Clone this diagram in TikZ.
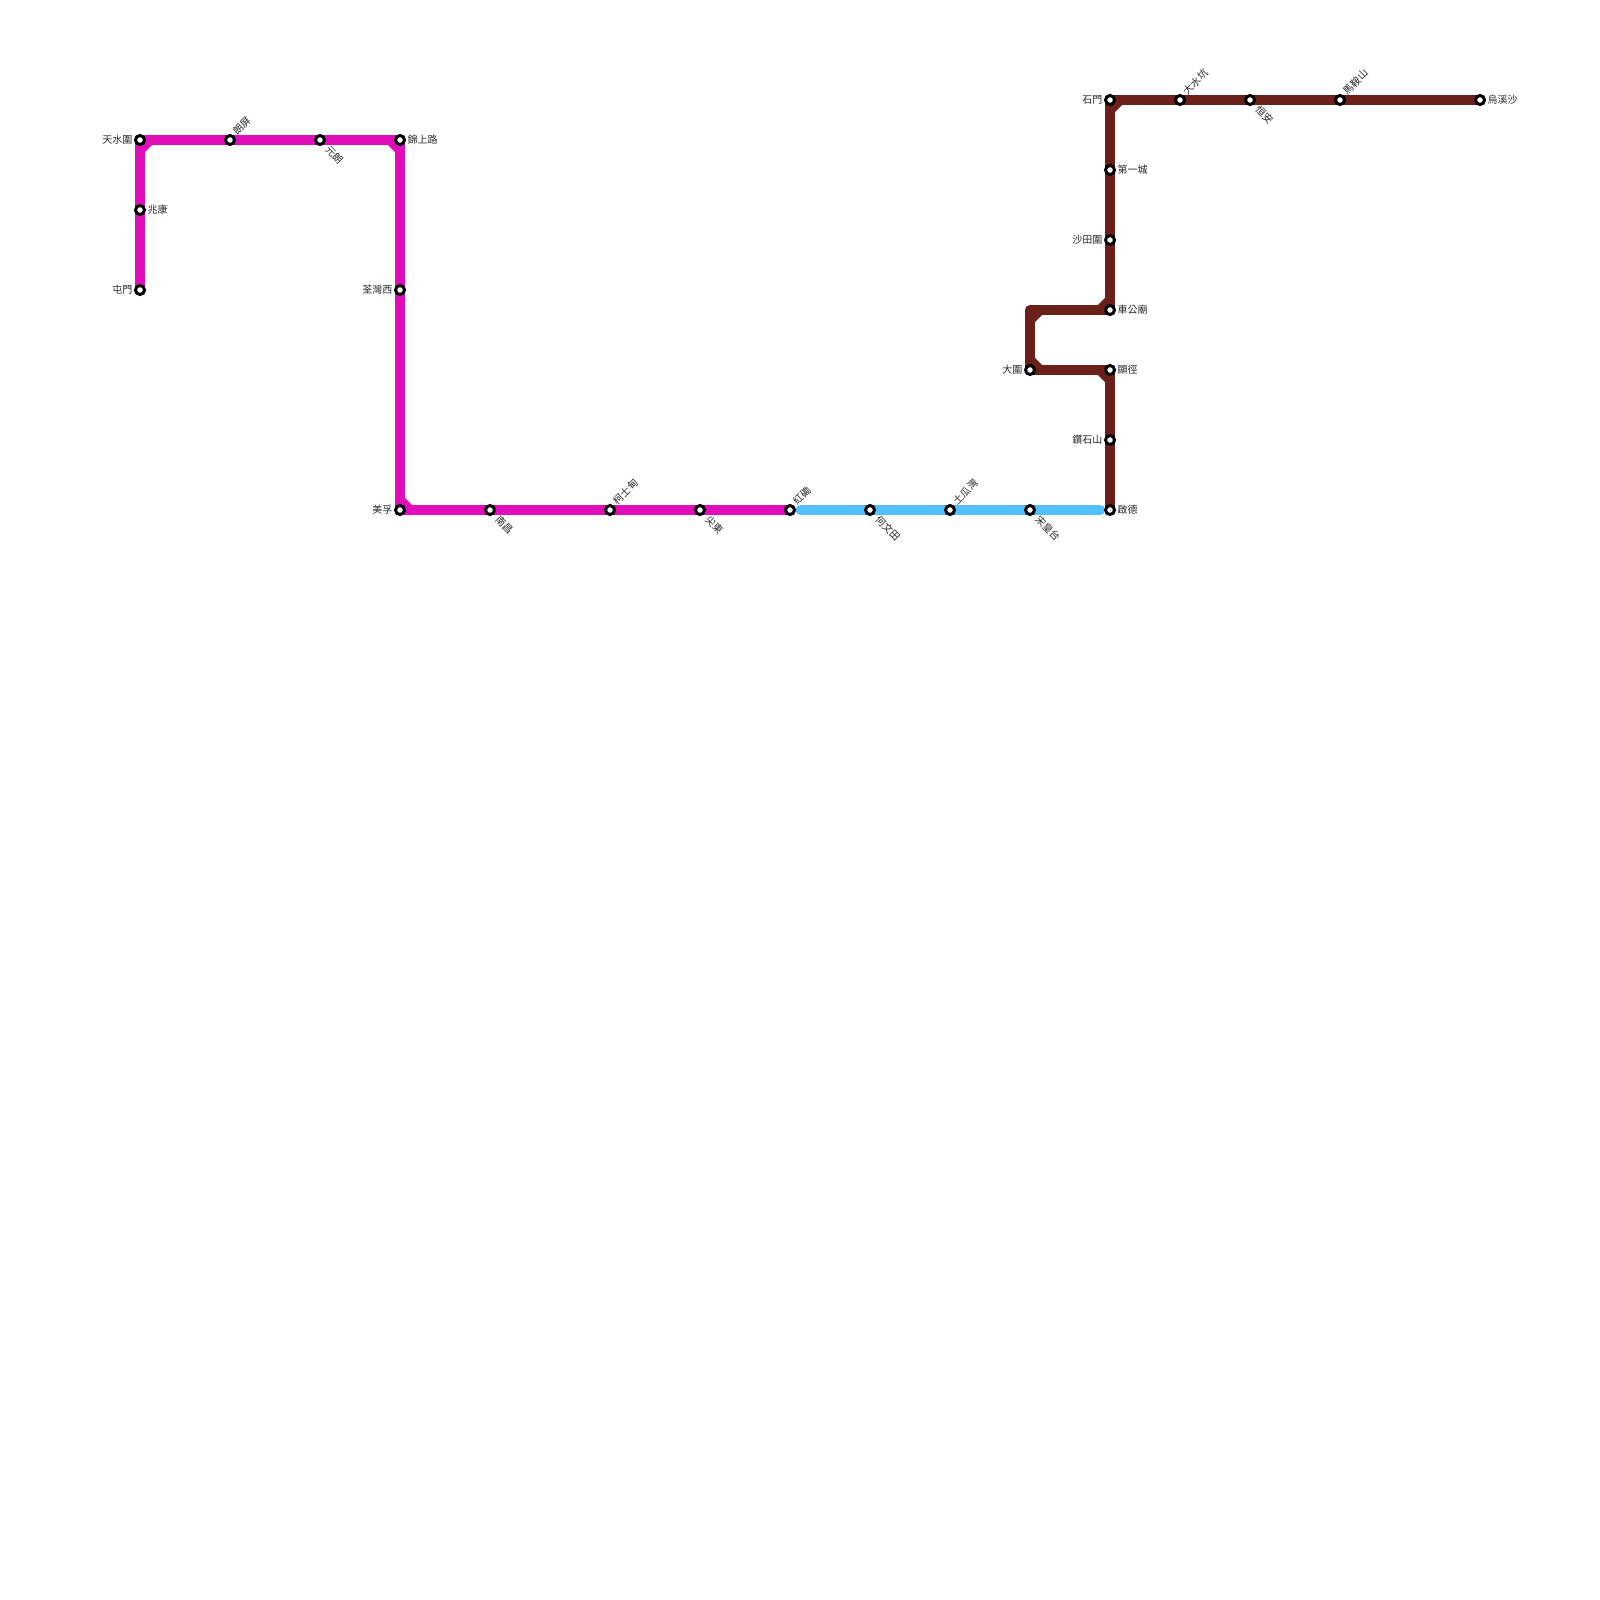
\documentclass[tikz,border=0pt]{standalone}
\usepackage{fontspec}
\setmainfont{Noto Sans CJK TC}
\usetikzlibrary{positioning, calc}
\definecolor{westrail}{RGB}{224,14,184}
\definecolor{tuenma}{RGB}{83,193,255}
\definecolor{maonshan}{RGB}{107,33,26}
\tikzset{
	rail/.style={line width=10pt, line join=round},
	stn/.style={circle, draw=black, fill=white, line width=3pt, minimum size=9pt, inner sep=0pt},
	lbl/.style={font=\fontsize{10}{12}\selectfont, inner sep=0pt, text=black!85},
	lblr/.style={lbl, anchor=west, xshift=7.5pt},
	lbll/.style={lbl, anchor=east, xshift=-7.5pt},
	lblu/.style={lbl, anchor=west, rotate=45, xshift=8.5pt, yshift=2pt},
	lbld/.style={lbl, anchor=west, rotate=-45, xshift=10.5pt, yshift=-0.5pt}
}
\begin{document}
\begin{tikzpicture}[x=1pt, y=-1pt]
	\useasboundingbox (0,0) rectangle (1600,1600);
	% stations
	\coordinate (tinshui) at (140,140);
	\coordinate (siuhong) at (140,210);
	\coordinate (tuenmun) at (140,290);
	\coordinate (longping) at (230,140);
	\coordinate (yuenlong) at (320,140);
	\coordinate (kamsheung) at (400,140);
	\coordinate (tsuenwan) at (400,290);
	\coordinate (meifoo) at (400,510);
	\coordinate (namcheong) at (490,510);
	\coordinate (austin) at (610,510);
	\coordinate (etsimsha) at (700,510);
	\coordinate (hunghom) at (790,510);
	\coordinate (homantin) at (870,510);
	\coordinate (tokwawan) at (950,510);
	\coordinate (sungwong) at (1030,510);
	\coordinate (kaitak) at (1110,510);
	\coordinate (diamond) at (1110,440);
	\coordinate (hinkeng) at (1110,370);
	\coordinate (taiwai) at (1030,370);
	\coordinate (chekung) at (1110,310);
	\coordinate (shatinwai) at (1110,240);
	\coordinate (cityone) at (1110,170);
	\coordinate (shekmun) at (1110,100);
	\coordinate (taishuihang) at (1180,100);
	\coordinate (hengon) at (1250,100);
	\coordinate (maonshan) at (1340,100);
	\coordinate (wukaisha) at (1480,100);
	\coordinate (taiwaitop) at (1030,310);
	% lines
	\draw[rail, westrail] (tuenmun) -- (tinshui) -- (kamsheung) -- (meifoo) -- (hunghom);
	\draw[rail, westrail] ($(tinshui)+(0,10)$) -- ($(tinshui)+(10,0)$);
	\draw[rail, westrail] ($(kamsheung)+(-10,0)$) -- ($(kamsheung)+(0,10)$);
	\draw[rail, westrail] ($(meifoo)+(0,-10)$) -- ($(meifoo)+(10,0)$);
	\draw[rail, tuenma, line cap=round] ($(hunghom)+(10.5,0)$) -- ($(kaitak)+(-10,0)$);
	\draw[rail, maonshan] (kaitak) -- (hinkeng) -- (taiwai) -- (taiwaitop) -- (chekung) -- (shekmun) -- (wukaisha);
	\draw[rail, maonshan] ($(hinkeng)+(0,10)$) -- ($(hinkeng)+(-10,0)$);
	\draw[rail, maonshan] ($(taiwai)+(0,-10)$) -- ($(taiwai)+(10,0)$);
	\draw[rail, maonshan] ($(taiwaitop)+(0,10)$) -- ($(taiwaitop)+(10,0)$);
	\draw[rail, maonshan] ($(chekung)+(-10,0)$) -- ($(chekung)+(0,-10)$);
	\draw[rail, maonshan] ($(shekmun)+(0,10)$) -- ($(shekmun)+(10,0)$);
	% station dots
	\foreach \s in {tinshui, siuhong, tuenmun, longping, yuenlong, kamsheung, tsuenwan, meifoo,
		namcheong, austin, etsimsha, hunghom, homantin, tokwawan, sungwong, kaitak, diamond,
		hinkeng, taiwai, chekung, shatinwai, cityone, shekmun, taishuihang, hengon, maonshan, wukaisha}
		\node[stn] (\s-dot) at (\s) {};
	% labels
	\node[lbll] (tinshui-l) at (tinshui) {天水圍};
	\node[lblr] (siuhong-l) at (siuhong) {兆康};
	\node[lbll] (tuenmun-l) at (tuenmun) {屯門};
	\node[lblu] (longping-l) at (longping) {朗屏};
	\node[lbld] (yuenlong-l) at (yuenlong) {元朗};
	\node[lblr] (kamsheung-l) at (kamsheung) {錦上路};
	\node[lbll] (tsuenwan-l) at (tsuenwan) {荃灣西};
	\node[lbll] (meifoo-l) at (meifoo) {美孚};
	\node[lbld] (namcheong-l) at (namcheong) {南昌};
	\node[lblu] (austin-l) at (austin) {柯士甸};
	\node[lbld] (etsimsha-l) at (etsimsha) {尖東};
	\node[lblu] (hunghom-l) at (hunghom) {紅磡};
	\node[lbld] (homantin-l) at (homantin) {何文田};
	\node[lblu] (tokwawan-l) at (tokwawan) {土瓜灣};
	\node[lbld] (sungwong-l) at (sungwong) {宋皇台};
	\node[lblr] (kaitak-l) at (kaitak) {啟德};
	\node[lbll] (diamond-l) at (diamond) {鑽石山};
	\node[lblr] (hinkeng-l) at (hinkeng) {顯徑};
	\node[lbll] (taiwai-l) at (taiwai) {大圍};
	\node[lblr] (chekung-l) at (chekung) {車公廟};
	\node[lbll] (shatinwai-l) at (shatinwai) {沙田圍};
	\node[lblr] (cityone-l) at (cityone) {第一城};
	\node[lbll] (shekmun-l) at (shekmun) {石門};
	\node[lblu] (taishuihang-l) at (taishuihang) {大水坑};
	\node[lbld] (hengon-l) at (hengon) {恒安};
	\node[lblu] (maonshan-l) at (maonshan) {馬鞍山};
	\node[lblr] (wukaisha-l) at (wukaisha) {烏溪沙};
\end{tikzpicture}
\end{document}
